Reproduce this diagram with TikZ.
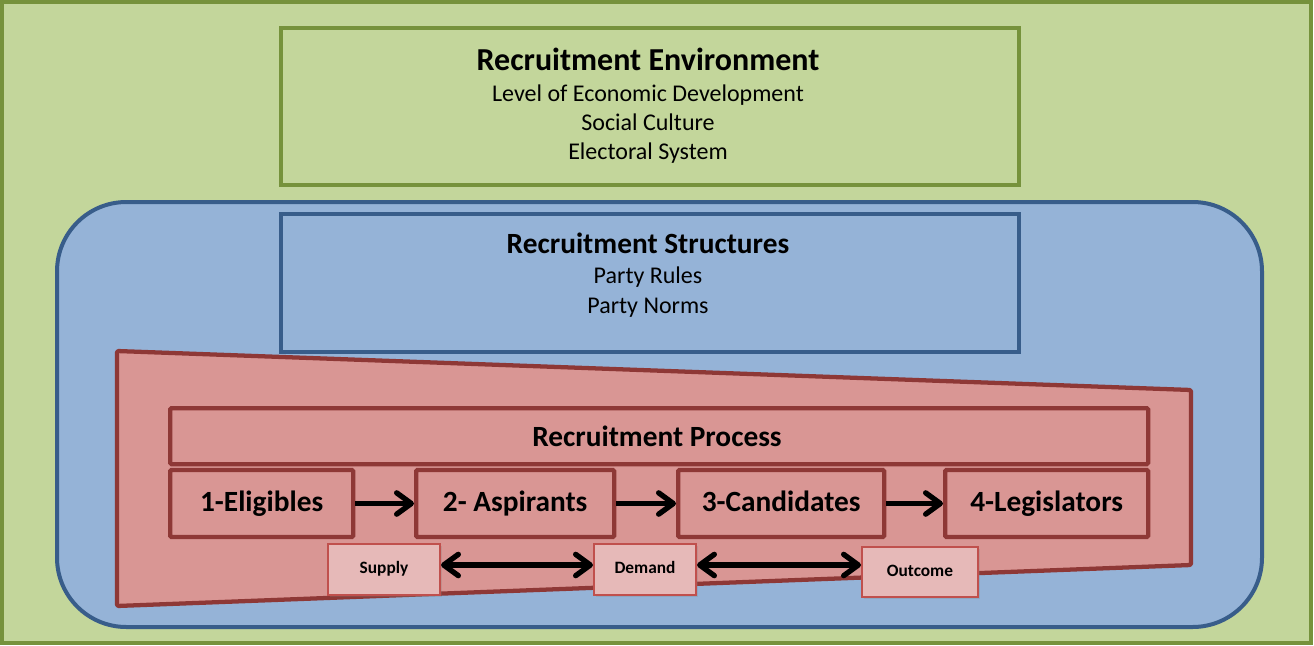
\documentclass[tikz,border=0pt]{standalone}
\usepackage{fontspec}
\setmainfont{Carlito}
\usetikzlibrary{arrows.meta,shadows}
\definecolor{envfill}{HTML}{C3D69B}
\definecolor{envline}{HTML}{76923C}
\definecolor{strfill}{HTML}{95B3D7}
\definecolor{strline}{HTML}{385D8A}
\definecolor{procfill}{HTML}{D99694}
\definecolor{procline}{HTML}{8E3836}
\definecolor{tagfill}{HTML}{E6B9B8}
\definecolor{tagline}{HTML}{C0504D}
\tikzset{
  envbox/.style={draw=envline, fill=envfill, line width=3pt},
  strbox/.style={draw=strline, fill=strfill, line width=3pt},
  procbox/.style={draw=procline, fill=procfill, line width=3.2pt, rounded corners=1pt},
  tagbox/.style={draw=tagline, fill=tagfill, line width=1.5pt,
    drop shadow={shadow xshift=1.5pt, shadow yshift=-1.5pt, opacity=0.25}},
  barb/.tip={Straight Barb[length=11pt,width=16pt,line cap=round,line join=round]},
  flow/.style={line width=4pt, -barb},
  biflow/.style={line width=4pt, barb-barb},
  line/.style={font=\fontsize{18}{21}\selectfont, text height=12pt, text depth=3pt},
  heading/.style={font=\bfseries\fontsize{#1}{26}\selectfont},
}
\begin{document}
\begin{tikzpicture}[x=0.75pt,y=-0.75pt]
\useasboundingbox (0,0) rectangle (1314,646);
% environment frame
\draw[envbox] (2,2) rectangle (1311,643);
\node[envbox, minimum width=738*0.75pt, minimum height=157*0.75pt, anchor=north west] (env) at (279,26) {};
\node[heading=24] (envt) at (648,59) {Recruitment Environment};
\node[line] (envl1) at (648,95) {Level of Economic Development};
\node[line] (envl2) at (648,124) {Social Culture};
\node[line] (envl3) at (648,153) {Electoral System};
% structures frame
\draw[strbox, rounded corners=52pt] (57,202) rectangle (1262,627);
\node[strbox, minimum width=738*0.75pt, minimum height=138*0.75pt, anchor=north west] (str) at (279,212) {};
\node[heading=22] (strt) at (648,243) {Recruitment Structures};
\node[line] (strl1) at (648,277) {Party Rules};
\node[line] (strl2) at (648,307) {Party Norms};
% process trapezoid
\draw[procbox, line join=round] (117,351) -- (1191,390) -- (1191,565) -- (117,606) -- cycle;
\node[procbox, minimum width=978*0.75pt, minimum height=56*0.75pt, anchor=north west] (proc) at (168,406) {};
\node[heading=22] (proct) at (657,436) {Recruitment Process};
% stages
\tikzset{stage/.style={procbox, minimum height=67*0.75pt, anchor=west, text height=15.5pt, text depth=3.5pt,
  font=\bfseries\fontsize{22}{26}\selectfont}}
\node[stage, minimum width=183*0.75pt] (s1) at (168,503.5) {1-Eligibles};
\node[stage, minimum width=198*0.75pt] (s2) at (414,503.5) {2- Aspirants};
\node[stage, minimum width=206*0.75pt] (s3) at (676,503.5) {3-Candidates};
\node[stage, minimum width=203*0.75pt] (s4) at (943,503.5) {4-Legislators};
\draw[flow] (s1) -- (s2);
\draw[flow] (s2) -- (s3);
\draw[flow] (s3) -- (s4);
% supply / demand / outcome
\tikzset{tag/.style={tagbox, minimum height=51*0.75pt, anchor=north west, text height=9pt, text depth=2.5pt,
  font=\bfseries\fontsize{13}{15}\selectfont}}
\node[tag, minimum width=112*0.75pt] (sup) at (327,543) {Supply};
\node[tag, minimum width=102*0.75pt] (dem) at (593,543) {Demand};
\node[tag, minimum width=116*0.75pt, minimum height=50*0.75pt] (out) at (861,546) {Outcome};
\draw[biflow] (sup.east |- 0,565) -- (dem.west |- 0,565);
\draw[biflow] (dem.east |- 0,565) -- (out.west |- 0,565);
\end{tikzpicture}
\end{document}
